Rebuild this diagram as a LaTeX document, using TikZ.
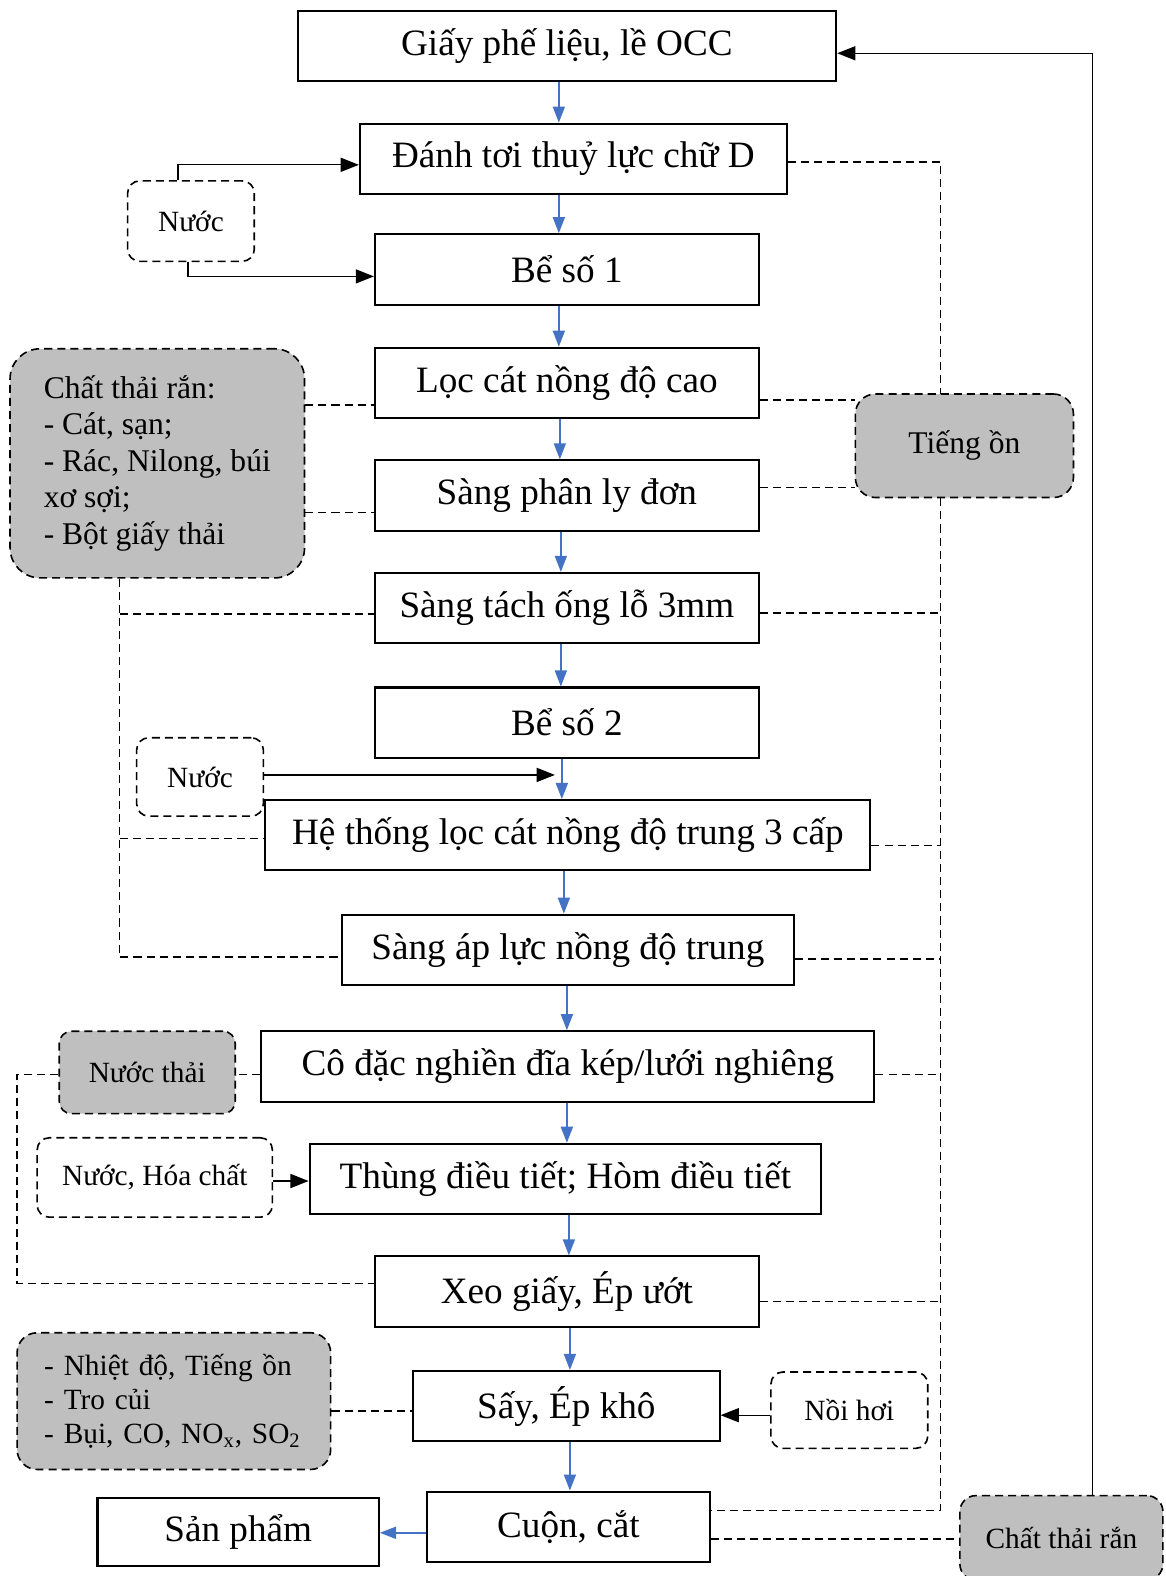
\documentclass[tikz,border=0pt]{standalone}
\usepackage{fontspec}
\setmainfont{Liberation Serif}
\usepackage{tikz}
\usetikzlibrary{arrows.meta}
\definecolor{flowblue}{HTML}{4472C4}
\definecolor{waste}{HTML}{BFBFBF}

\begin{document}
\begin{tikzpicture}[x=0.5pt,y=-0.5pt,
stepbox/.style={draw,line width=1pt,minimum height=35pt,inner sep=0pt,font=\fontsize{18.5}{22}\selectfont},
inbox/.style={draw,dash pattern=on 4pt off 2.5pt,line width=0.8pt,rounded corners=6pt,inner sep=0pt,font=\fontsize{14.6}{17}\selectfont},
wastebox/.style={inbox,fill=waste},
flow/.style={draw=flowblue,line width=0.8pt,-{Triangle[width=6pt,length=8pt]}},
feed/.style={line width=0.6pt,-{Triangle[width=7pt,length=9pt]}},
dsh/.style={dash pattern=on 4pt off 2.5pt,line width=0.7pt}]
\useasboundingbox (0,0) rectangle (1160,1568);

\node[stepbox,minimum width=268pt] (b1) at (564,46) {Giấy phế liệu, lề OCC};
\node[stepbox,minimum width=212.5pt] (b2) at (570.5,158) {Đánh tơi thuỷ lực chữ D};
\node[stepbox,minimum width=191pt] (b3) at (564,268) {Bể số 1};
\node[stepbox,minimum width=191pt] (b4) at (564,381) {Lọc cát nồng độ cao};
\node[stepbox,minimum width=191pt] (b5) at (564,493) {Sàng phân ly đơn};
\node[stepbox,minimum width=191pt] (b6) at (564,605) {Sàng tách ống lỗ 3mm};
\node[stepbox,minimum width=191pt] (b7) at (564,719) {Bể số 2};
\node[stepbox,minimum width=301pt] (b8) at (565,831) {Hệ thống lọc cát nồng độ trung 3 cấp};
\node[stepbox,minimum width=225pt] (b9) at (565,945) {Sàng áp lực nồng độ trung};
\node[stepbox,minimum width=305pt] (b10) at (565,1061) {Cô đặc nghiền đĩa kép/lưới nghiêng};
\node[stepbox,minimum width=254.5pt] (b11) at (562.5,1173) {Thùng điều tiết; Hòm điều tiết};
\node[stepbox,minimum width=191pt] (b12) at (564,1285) {Xeo giấy, Ép ướt};
\node[stepbox,minimum width=152.5pt] (b13) at (563.5,1399) {Sấy, Ép khô};
\node[stepbox,minimum width=140.5pt] (b14) at (565.5,1519) {Cuộn, cắt};
\node[stepbox,minimum width=140pt,minimum height=34pt] (sp) at (237,1524) {Sản phẩm};

\foreach \a/\b/\x in {b1/b2/556,b2/b3/556,b3/b4/556,b4/b5/557,b5/b6/558,b6/b7/558,b7/b8/559,b8/b9/561,b9/b10/564,b10/b11/564,b11/b12/566,b12/b13/567,b13/b14/567}
  \draw[flow] (\x,0 |- \a.south) -- (\x,0 |- \b.north);
\draw[flow] (b14.west |- 0,1525) -- (sp.east |- 0,1525);

%Inputs
\node[inbox,minimum width=63pt,minimum height=40pt] (nuoc1) at (190,220) {Nước};
\node[inbox,minimum width=63pt,minimum height=39pt] (nuoc2) at (199,773) {Nước};
\node[inbox,minimum width=117pt,minimum height=39.5pt] (hc) at (154,1171.5) {Nước, Hóa chất};
\node[inbox,minimum width=78pt,minimum height=38pt] (noi) at (845,1403) {Nồi hơi};
\coordinate (w2) at (552,771);
\draw[feed] (177,0 |- nuoc1.north) |- (b2.west |- 0,164);
\draw[feed] (187,0 |- nuoc1.south) |- (b3.west |- 0,275);
\draw[feed] (nuoc2.east |- w2) -- (w2);
\draw[feed] (hc.east |- 0,1175) -- (b11.west |- 0,1175);
\draw[feed] (noi.west |- 0,1408) -- (b13.east |- 0,1408);

%Wastes
\node[wastebox,minimum width=146.5pt,minimum height=114pt,rounded corners=15pt,font=\fontsize{15.7}{18.2}\selectfont,align=left] (cdr) at (156.5,461) {Chất thải rắn:\\- Cát, sạn;\\- Rác, Nilong, búi\\xơ sợi;\\- Bột giấy thải};
\node[wastebox,minimum width=108.5pt,minimum height=51.5pt,rounded corners=10pt,font=\fontsize{15.7}{18}\selectfont] (noise) at (959.5,443.5) {Tiếng ồn};
\node[wastebox,minimum width=87.5pt,minimum height=41pt] (nthai) at (146.5,1067) {Nước thải};
\node[wastebox,minimum width=156pt,minimum height=68pt,rounded corners=10pt,align=left,text width=129pt] (nd) at (173,1394) {- Nhiệt độ, Tiếng ồn\\- Tro củi\\- Bụi, CO, NO\textsubscript{x}, SO\textsubscript{2}};
\node[wastebox,minimum width=101pt,minimum height=42pt,rounded corners=8pt] (ctr) at (1056,1530) {Chất thải rắn};

\coordinate (lb) at (119,952);
\draw[dsh] (cdr.east |- 0,403) -- (b4.west |- 0,403);
\draw[dsh] (cdr.east |- 0,510) -- (b5.west |- 0,510);
\draw[dsh] (cdr.south -| lb) -- (lb) -- (b9.west |- lb);
\draw[dsh] (lb |- 0,611) -- (b6.west |- 0,611);
\draw[dsh] (lb |- 0,834) -- (b8.west |- 0,834);

\coordinate (rt) at (936,392);
\coordinate (rb) at (936,1503);
\draw[dsh] (b2.east |- 0,161) -| (rt);
\draw[dsh] (b4.east |- 0,398) -- (noise.west |- 0,398);
\draw[dsh] (b5.east |- 0,485) -- (noise.west |- 0,485);
\draw[dsh] (noise.south -| rb) -- (rb) -- (b14.east |- rb);
\foreach \n/\y in {b6/610,b8/841,b9/954,b10/1069,b12/1295}
  \draw[dsh] (\n.east |- 0,\y) -- (rb |- 0,\y);

\coordinate (lw) at (17,1277);
\draw[dsh] (b10.west |- 0,1069) -- (nthai.east |- 0,1069);
\draw[dsh] (nthai.west |- 0,1069) -| (lw) -- (b12.west |- lw);
\draw[dsh] (nd.east |- 0,1404) -- (b13.west |- 0,1404);
\draw[dsh] (b14.east |- 0,1531) -- (ctr.west |- 0,1531);
\draw[feed] (ctr.north -| 1087,0) |- (b1.east |- 0,53);
\end{tikzpicture}
\end{document}
